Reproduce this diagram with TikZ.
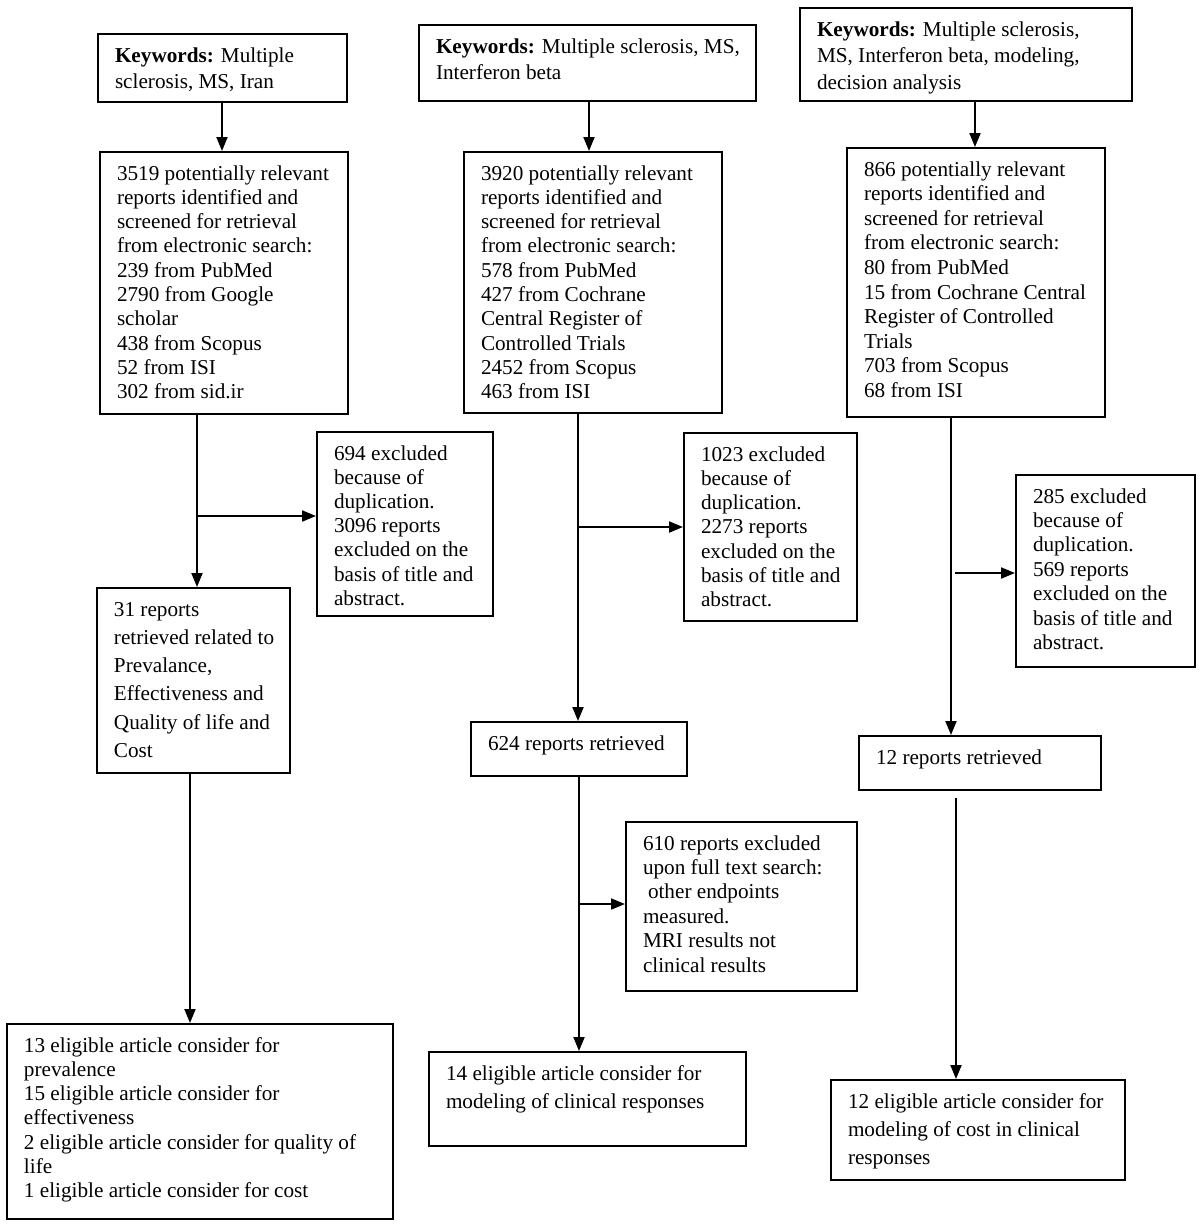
\documentclass[tikz,border=0pt]{standalone}
\usepackage{fontspec}
\setmainfont{Liberation Serif}
\usetikzlibrary{arrows.meta}
\newcommand{\topst}{\rule{0pt}{7.5pt}}
% name, x1, y1, x2, y2, baselineskip, text
\newcommand{\bx}[7]{%
  \node[bx, anchor=north west] (#1) at (#2,#3) {\hspace*{8.5pt}\begin{minipage}[t][\dimexpr 0.5pt*\numexpr #5-#3\relax - 13pt\relax][t]{\dimexpr 0.5pt*\numexpr #4-#2\relax - 8.5pt\relax}\fontsize{10.6}{#6}\selectfont\raggedright\topst #7\end{minipage}};}
\tikzset{
  bx/.style={draw, line width=1pt, inner xsep=0pt, inner ysep=6.5pt, align=left},
  arr/.style={line width=1pt, -{Triangle[length=7pt,width=5.5pt]}}
}
\begin{document}
\begin{tikzpicture}[x=0.5pt, y=-0.5pt]
\fill[white] (0,0) rectangle (1200,1228);
\useasboundingbox (0,0) rectangle (1200,1228);

% column 1
\bx{K1}{97}{33}{346}{101}{13pt}{\textbf{Keywords:} Multiple\\sclerosis, MS, Iran}
\bx{B1}{99}{151}{347}{413}{12.15pt}{3519 potentially relevant\\reports identified and\\screened for retrieval\\from electronic search:\\239 from PubMed\\2790 from Google\\scholar\\438 from Scopus\\52 from ISI\\302 from sid.ir}
\bx{E1}{316}{431}{492}{615}{12.1pt}{694 excluded\\because of\\duplication.\\3096 reports\\excluded on the\\basis of title and\\abstract.}
\bx{R1}{96}{587}{289}{772}{14.15pt}{31 reports\\retrieved related to\\Prevalance,\\Effectiveness and\\Quality of life and\\Cost}
\bx{F1}{6}{1023}{392}{1218}{12.15pt}{13 eligible article consider for\\prevalence\\15 eligible article consider for\\effectiveness\\2 eligible article consider for quality of\\life\\1 eligible article consider for cost}

% column 2
\bx{K2}{418}{24}{755}{100}{13pt}{\textbf{Keywords:} Multiple sclerosis, MS,\\Interferon beta}
\bx{B2}{463}{151}{721}{412}{12.15pt}{3920 potentially relevant\\reports identified and\\screened for retrieval\\from electronic search:\\578 from PubMed\\427 from Cochrane\\Central Register of\\Controlled Trials\\2452 from Scopus\\463 from ISI}
\bx{E2}{683}{432}{856}{620}{12.15pt}{1023 excluded\\because of\\duplication.\\2273 reports\\excluded on the\\basis of title and\\abstract.}
\bx{R2}{470}{721}{686}{775}{12pt}{624 reports retrieved}
\bx{X2}{625}{821}{856}{990}{12.2pt}{610 reports excluded\\upon full text search:\\\hspace*{2.5pt}other endpoints\\measured.\\MRI results not\\clinical results}
\bx{F2}{428}{1051}{745}{1145}{14pt}{14 eligible article consider for\\modeling of clinical responses}

% column 3
\bx{K3}{799}{7}{1131}{100}{13.3pt}{\textbf{Keywords:} Multiple sclerosis,\\MS, Interferon beta, modeling,\\decision analysis}
\bx{B3}{846}{147}{1104}{416}{12.3pt}{866 potentially relevant\\reports identified and\\screened for retrieval\\from electronic search:\\80 from PubMed\\15 from Cochrane Central\\Register of Controlled\\Trials\\703 from Scopus\\68 from ISI}
\bx{E3}{1015}{474}{1194}{666}{12.2pt}{285 excluded\\because of\\duplication.\\569 reports\\excluded on the\\basis of title and\\abstract.}
\bx{R3}{858}{735}{1100}{789}{12pt}{12 reports retrieved}
\bx{F3}{830}{1079}{1124}{1179}{14.15pt}{12 eligible article consider for\\modeling of cost in clinical\\responses}

% connectors column 1
\coordinate (a1) at (222,0);
\coordinate (a2) at (197,516);
\coordinate (a3) at (190,0);
\draw[arr] (a1 |- K1.south) -- (a1 |- B1.north);
\draw[arr] (a2 |- B1.south) -- (a2 |- R1.north);
\draw[arr] (a2) -- (a2 -| E1.west);
\draw[arr] (a3 |- R1.south) -- (a3 |- F1.north);

% connectors column 2
\coordinate (b1) at (589,0);
\coordinate (b2) at (578,527);
\coordinate (b3) at (579,904);
\draw[arr] (b1 |- K2.south) -- (b1 |- B2.north);
\draw[arr] (b2 |- B2.south) -- (b2 |- R2.north);
\draw[arr] (b2) -- (b2 -| E2.west);
\draw[arr] (b3 |- R2.south) -- (b3 |- F2.north);
\draw[arr] (b3) -- (b3 -| X2.west);

% connectors column 3
\coordinate (c1) at (975,0);
\coordinate (c2) at (951,0);
\coordinate (c2b) at (955,573);
\coordinate (c3) at (956,798);
\draw[arr] (c1 |- K3.south) -- (c1 |- B3.north);
\draw[arr] (c2 |- B3.south) -- (c2 |- R3.north);
\draw[arr] (c2b) -- (c2b -| E3.west);
\draw[arr] (c3) -- (c3 |- F3.north);
\end{tikzpicture}
\end{document}
